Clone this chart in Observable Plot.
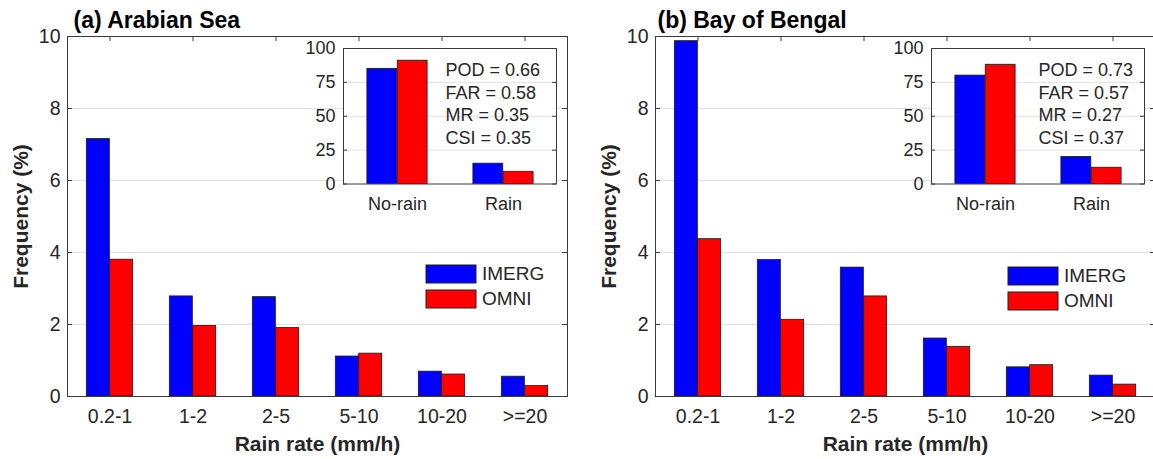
<!DOCTYPE html>
<html><head><meta charset="utf-8">
<script src="https://cdn.jsdelivr.net/npm/d3@7"></script>
<script src="https://cdn.jsdelivr.net/npm/@observablehq/plot@0.6"></script>
<style>
html,body{margin:0;padding:0;background:#fff;overflow:hidden;}
#fig{position:relative;width:1153px;height:459px;overflow:hidden;background:#fff;font-family:"Liberation Sans",Arial,sans-serif;}
#fig > div, #fig > svg{position:absolute;}
.lg-swatches{font-family:"Liberation Sans",Arial,sans-serif !important;font-size:19px !important;line-height:22px !important;color:#262626 !important;margin:0 !important;width:140px;white-space:nowrap;}
.lg-swatch{padding-bottom:3px !important;align-items:center;}
.lg-swatch-label{overflow:visible !important;text-overflow:clip !important;}
.lg-swatch > svg{margin-right:6px !important;overflow:visible;}
.lg-swatch > svg rect{stroke:#222;stroke-width:1;}
</style></head><body><div id="fig"></div><script>
const categories = ["0.2-1","1-2","2-5","5-10","10-20",">=20"];
const series = ["IMERG","OMNI"];
const imergA = [7.15,2.78,2.76,1.11,0.69,0.55];
const omniA  = [3.80,1.96,1.90,1.19,0.61,0.29];
const imergB = [9.87,3.79,3.58,1.61,0.81,0.58];
const omniB  = [4.37,2.13,2.78,1.38,0.87,0.33];
const yTicks = [0,2,4,6,8,10];
const insetCategories = ["No-rain","Rain"];
const insetImergA = [85,15];
const insetOmniA  = [91,9];
const insetImergB = [80,20];
const insetOmniB  = [88,12];
const insetTicks = [0,25,50,75,100];
const metricNames = ["POD","FAR","MR","CSI"];
const metricsA = [0.66,0.58,0.35,0.35];
const metricsB = [0.73,0.57,0.27,0.37];
const titles = ["(a) Arabian Sea","(b) Bay of Bengal"];
const xLabel = "Rain rate (mm/h)";
const yLabel = "Frequency (%)";
const colors = ["#0000ff","#ff0000"];

const AX = "#3a3a3a";
const FONT = "Liberation Sans, Arial, sans-serif";

function bars(cats, a, b, bw, frac) {
  const rows = cats.map((c, i) => ({cat: c, a: a[i], b: b[i]}));
  const w = bw * frac;
  return [
    Plot.barY(rows, {x: "cat", y: "a", fill: colors[0], stroke: "#1a1a1a", strokeWidth: 0.8, insetLeft: bw / 2 - w, insetRight: bw / 2}),
    Plot.barY(rows, {x: "cat", y: "b", fill: colors[1], stroke: "#1a1a1a", strokeWidth: 0.8, insetLeft: bw / 2, insetRight: bw / 2 - w})
  ];
}

function mainPanel(imerg, omni, title, titleDx) {
  const W = 588, H = 459, mL = 67, mR = 21, mT = 36, mB = 63;
  const fw = W - mL - mR, fh = H - mT - mB;
  const bw = fw / categories.length;
  return Plot.plot({
    width: W, height: H, marginLeft: mL, marginRight: mR, marginTop: mT, marginBottom: mB,
    style: {background: "transparent", color: "#262626", fontFamily: FONT, fontSize: "19.5px", overflow: "visible", maxWidth: "none"},
    x: {domain: categories, padding: 0, label: null},
    y: {domain: [0, 10], label: null},
    marks: [
      Plot.gridY(yTicks, {stroke: "#e2e2e2", strokeOpacity: 1}),
      ...bars(categories, imerg, omni, bw, 0.28),
      Plot.frame({stroke: AX}),
      Plot.tickY(yTicks, {y: d => d, insetRight: fw - 5, stroke: AX}),
      Plot.tickY(yTicks, {y: d => d, insetLeft: fw - 5, stroke: AX}),
      Plot.tickX(categories, {x: d => d, insetBottom: fh - 5, stroke: AX}),
      Plot.axisY(yTicks, {tickSize: 0, tickPadding: 7, label: null}),
      Plot.axisX({tickSize: 0, tickPadding: 13, label: null}),
      Plot.text([title], {frameAnchor: "top-left", dx: titleDx, dy: -9, textAnchor: "start", lineAnchor: "bottom", fontSize: 23, fontWeight: "bold", fill: "#000"}),
      Plot.text([yLabel], {frameAnchor: "left", dx: -40, rotate: -90, textAnchor: "middle", lineAnchor: "bottom", fontSize: 21, fontWeight: "bold"}),
      Plot.text([xLabel], {frameAnchor: "bottom", dy: 54, textAnchor: "middle", lineAnchor: "bottom", fontSize: 21, fontWeight: "bold"})
    ]
  });
}

function insetPanel(imerg, omni, metrics, textDx) {
  const W = 270, H = 180, mL = 43, mR = 14, mT = 8, mB = 36.5;
  const fw = W - mL - mR;
  const bw = fw / insetCategories.length;
  const statText = metricNames.map((n, i) => `${n} = ${metrics[i].toFixed(2)}`).join("\n");
  return Plot.plot({
    width: W, height: H, marginLeft: mL, marginRight: mR, marginTop: mT, marginBottom: mB,
    style: {background: "transparent", color: "#262626", fontFamily: FONT, fontSize: "18px", overflow: "visible", maxWidth: "none"},
    x: {domain: insetCategories, padding: 0, label: null},
    y: {domain: [0, 100], label: null},
    marks: [
      Plot.frame({fill: "white"}),
      Plot.gridY([25, 50, 75], {stroke: "#e2e2e2", strokeOpacity: 1}),
      ...bars(insetCategories, imerg, omni, bw, 0.285),
      Plot.frame({stroke: AX}),
      Plot.tickY(insetTicks, {y: d => d, insetRight: fw - 4, stroke: AX}),
      Plot.tickY(insetTicks, {y: d => d, insetLeft: fw - 4, stroke: AX}),
      Plot.axisY(insetTicks, {tickSize: 0, tickPadding: 8, label: null}),
      Plot.axisX({tickSize: 0, tickPadding: 13, label: null}),
      Plot.text([statText], {frameAnchor: "top-left", dx: textDx, dy: 12, textAnchor: "start", lineAnchor: "top", lineHeight: 1.25, fontSize: 18})
    ]
  });
}

function legend() {
  return Plot.legend({
    color: {type: "ordinal", domain: series, range: colors},
    className: "lg", swatchWidth: 50, swatchHeight: 18, columns: 1
  });
}

const fig = document.getElementById("fig");
function place(el, left, top) {
  el.style.position = "absolute";
  el.style.left = left + "px";
  el.style.top = top + "px";
  fig.appendChild(el);
}
place(mainPanel(imergA, omniA, titles[0], 6), 0, 0);
place(mainPanel(imergB, omniB, titles[1], 2), 588, 0);
place(insetPanel(insetImergA, insetOmniA, metricsA, 102), 300, 40);
place(insetPanel(insetImergB, insetOmniB, metricsB, 107), 888, 40);
place(legend(), 426, 263);
place(legend(), 1008, 265);
</script></body></html>
